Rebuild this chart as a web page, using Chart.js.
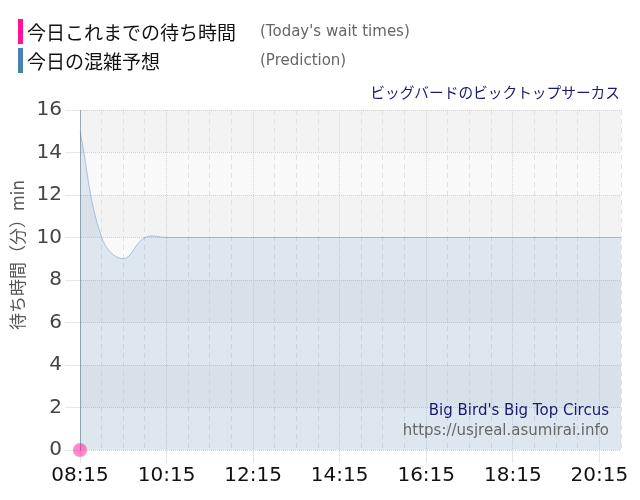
<!DOCTYPE html>
<html><head><meta charset="utf-8">
<script src="https://cdn.jsdelivr.net/npm/chart.js@4"></script>
<style>
html,body{margin:0;padding:0;background:#fff;}
#wrap{position:relative;width:640px;height:500px;overflow:hidden;}
canvas{position:absolute;left:0;top:0;}
.leg{position:absolute;left:18px;height:25px;display:flex;align-items:center;white-space:nowrap;}
.bar{width:5px;height:25px;margin-right:4px;}
.jp{font-family:"Noto Sans CJK JP";font-size:19px;color:#111;line-height:25px;}
.en{position:absolute;left:260px;font-family:"DejaVu Sans";font-size:15px;color:#666;line-height:20px;white-space:nowrap;}
#attr{position:absolute;right:20px;top:81px;font-family:"Noto Sans CJK JP";font-size:14.7px;color:#191970;line-height:22px;white-space:nowrap;}
</style></head>
<body>
<div id="wrap">
<canvas id="c" width="640" height="500"></canvas>
<div class="leg" style="top:19px;"><div class="bar" style="background:#ff1493"></div><span class="jp" id="l1"></span></div>
<div class="leg" style="top:48px;"><div class="bar" style="background:#4682b4"></div><span class="jp" id="l2"></span></div>
<div class="en" id="e1" style="top:21px;"></div>
<div class="en" id="e2" style="top:50px;"></div>
<div id="attr"></div>
</div>
<script>
const legendNames = ["今日これまでの待ち時間", "今日の混雑予想"];
const legendNotes = ["(Today's wait times)", "(Prediction)"];
const attractionName = "ビッグバードのビックトップサーカス";
const attractionEn = "Big Bird's Big Top Circus";
const siteUrl = "https://usjreal.asumirai.info";
const yTitle = "待ち時間（分）min";

const timeLabels = ["08:15","08:45","09:15","09:45","10:15","10:45","11:15","11:45","12:15","12:45","13:15","13:45","14:15","14:45","15:15","15:45","16:15","16:45","17:15","17:45","18:15","18:45","19:15","19:45","20:15","20:45"];
const predictionValues = [15,10,9,10,10,10,10,10,10,10,10,10,10,10,10,10,10,10,10,10,10,10,10,10,10,10];
const todayValues = [0,null,null,null,null,null,null,null,null,null,null,null,null,null,null,null,null,null,null,null,null,null,null,null,null,null];
const yTicks = [0,2,4,6,8,10,12,14,16];

document.getElementById('l1').textContent = legendNames[0];
document.getElementById('l2').textContent = legendNames[1];
document.getElementById('e1').textContent = legendNotes[0];
document.getElementById('e2').textContent = legendNotes[1];
document.getElementById('attr').textContent = attractionName;

const bandPlugin = {
  id: 'bands',
  beforeDraw(chart) {
    const {ctx, chartArea: a, scales: {y}} = chart;
    ctx.save();
    for (let i = 0; i < yTicks.length - 1; i++) {
      const top = y.getPixelForValue(yTicks[i + 1]);
      const bot = y.getPixelForValue(yTicks[i]);
      ctx.fillStyle = (i % 2 === 1) ? '#f3f3f3' : '#f9f9f9';
      ctx.fillRect(a.left, top, a.right - a.left, bot - top);
    }
    ctx.restore();
  },
  afterDraw(chart) {
    const {ctx, chartArea: a} = chart;
    ctx.save();
    ctx.textAlign = 'right';
    ctx.textBaseline = 'middle';
    ctx.font = '15px "DejaVu Sans"';
    ctx.fillStyle = '#191970';
    ctx.fillText(attractionEn, a.right - 12, 411);
    ctx.fillStyle = '#666';
    ctx.fillText(siteUrl, a.right - 12, 431);
    ctx.translate(18, 255);
    ctx.rotate(-Math.PI / 2);
    ctx.textAlign = 'center';
    ctx.font = '17px "Noto Sans CJK JP"';
    ctx.fillStyle = '#555';
    ctx.fillText(yTitle, 0, 0);
    ctx.restore();
  }
};

new Chart(document.getElementById('c'), {
  type: 'line',
  data: {
    labels: timeLabels,
    datasets: [
      {
        label: legendNames[0],
        data: todayValues,
        showLine: false,
        pointRadius: 7,
        pointHoverRadius: 7,
        pointBackgroundColor: 'rgba(255,20,147,0.5)',
        pointBorderWidth: 0,
        clip: false
      },
      {
        label: legendNames[1],
        data: predictionValues,
        fill: 'origin',
        backgroundColor: 'rgba(70,130,180,0.15)',
        borderColor: 'rgba(70,130,180,0.4)',
        borderWidth: 1,
        pointRadius: 0,
        tension: 0.4
      }
    ]
  },
  options: {
    responsive: false,
    animation: false,
    devicePixelRatio: 1,
    layout: {padding: {top: 110, right: 19, left: 0, bottom: 0}},
    plugins: {legend: {display: false}, tooltip: {enabled: false}},
    scales: {
      x: {
        afterFit(s) { s.height = 50; },
        ticks: {
          autoSkip: false, maxRotation: 0, padding: 1,
          color: '#111',
          font: {family: 'DejaVu Sans', size: 20},
          callback: (v, i) => (i % 4 === 0 ? timeLabels[i] : '')
        },
        grid: {
          color: (c) => (c.index % 4 === 0 ? '#d6d6d6' : '#e2e2e2'),
          tickLength: 13,
          tickColor: (c) => (c.index % 4 === 0 ? '#e4e4e4' : 'rgba(0,0,0,0)'),
          tickBorderDash: []
        },
        border: {display: false, dash: (c) => (c.index % 4 === 0 ? [1, 1] : [5, 4])}
      },
      y: {
        min: 0, max: 16,
        afterFit(s) { s.width = 80; },
        ticks: {
          stepSize: 2, padding: 3,
          color: '#444',
          font: {family: 'DejaVu Sans', size: 20}
        },
        grid: {
          color: '#d2d2d2',
          tickLength: 15,
          tickColor: '#e6e6e6',
          tickBorderDash: []
        },
        border: {display: true, color: '#9ea7b0', width: 1, dash: [1, 1]}
      }
    }
  },
  plugins: [bandPlugin]
});
</script>
</body></html>
